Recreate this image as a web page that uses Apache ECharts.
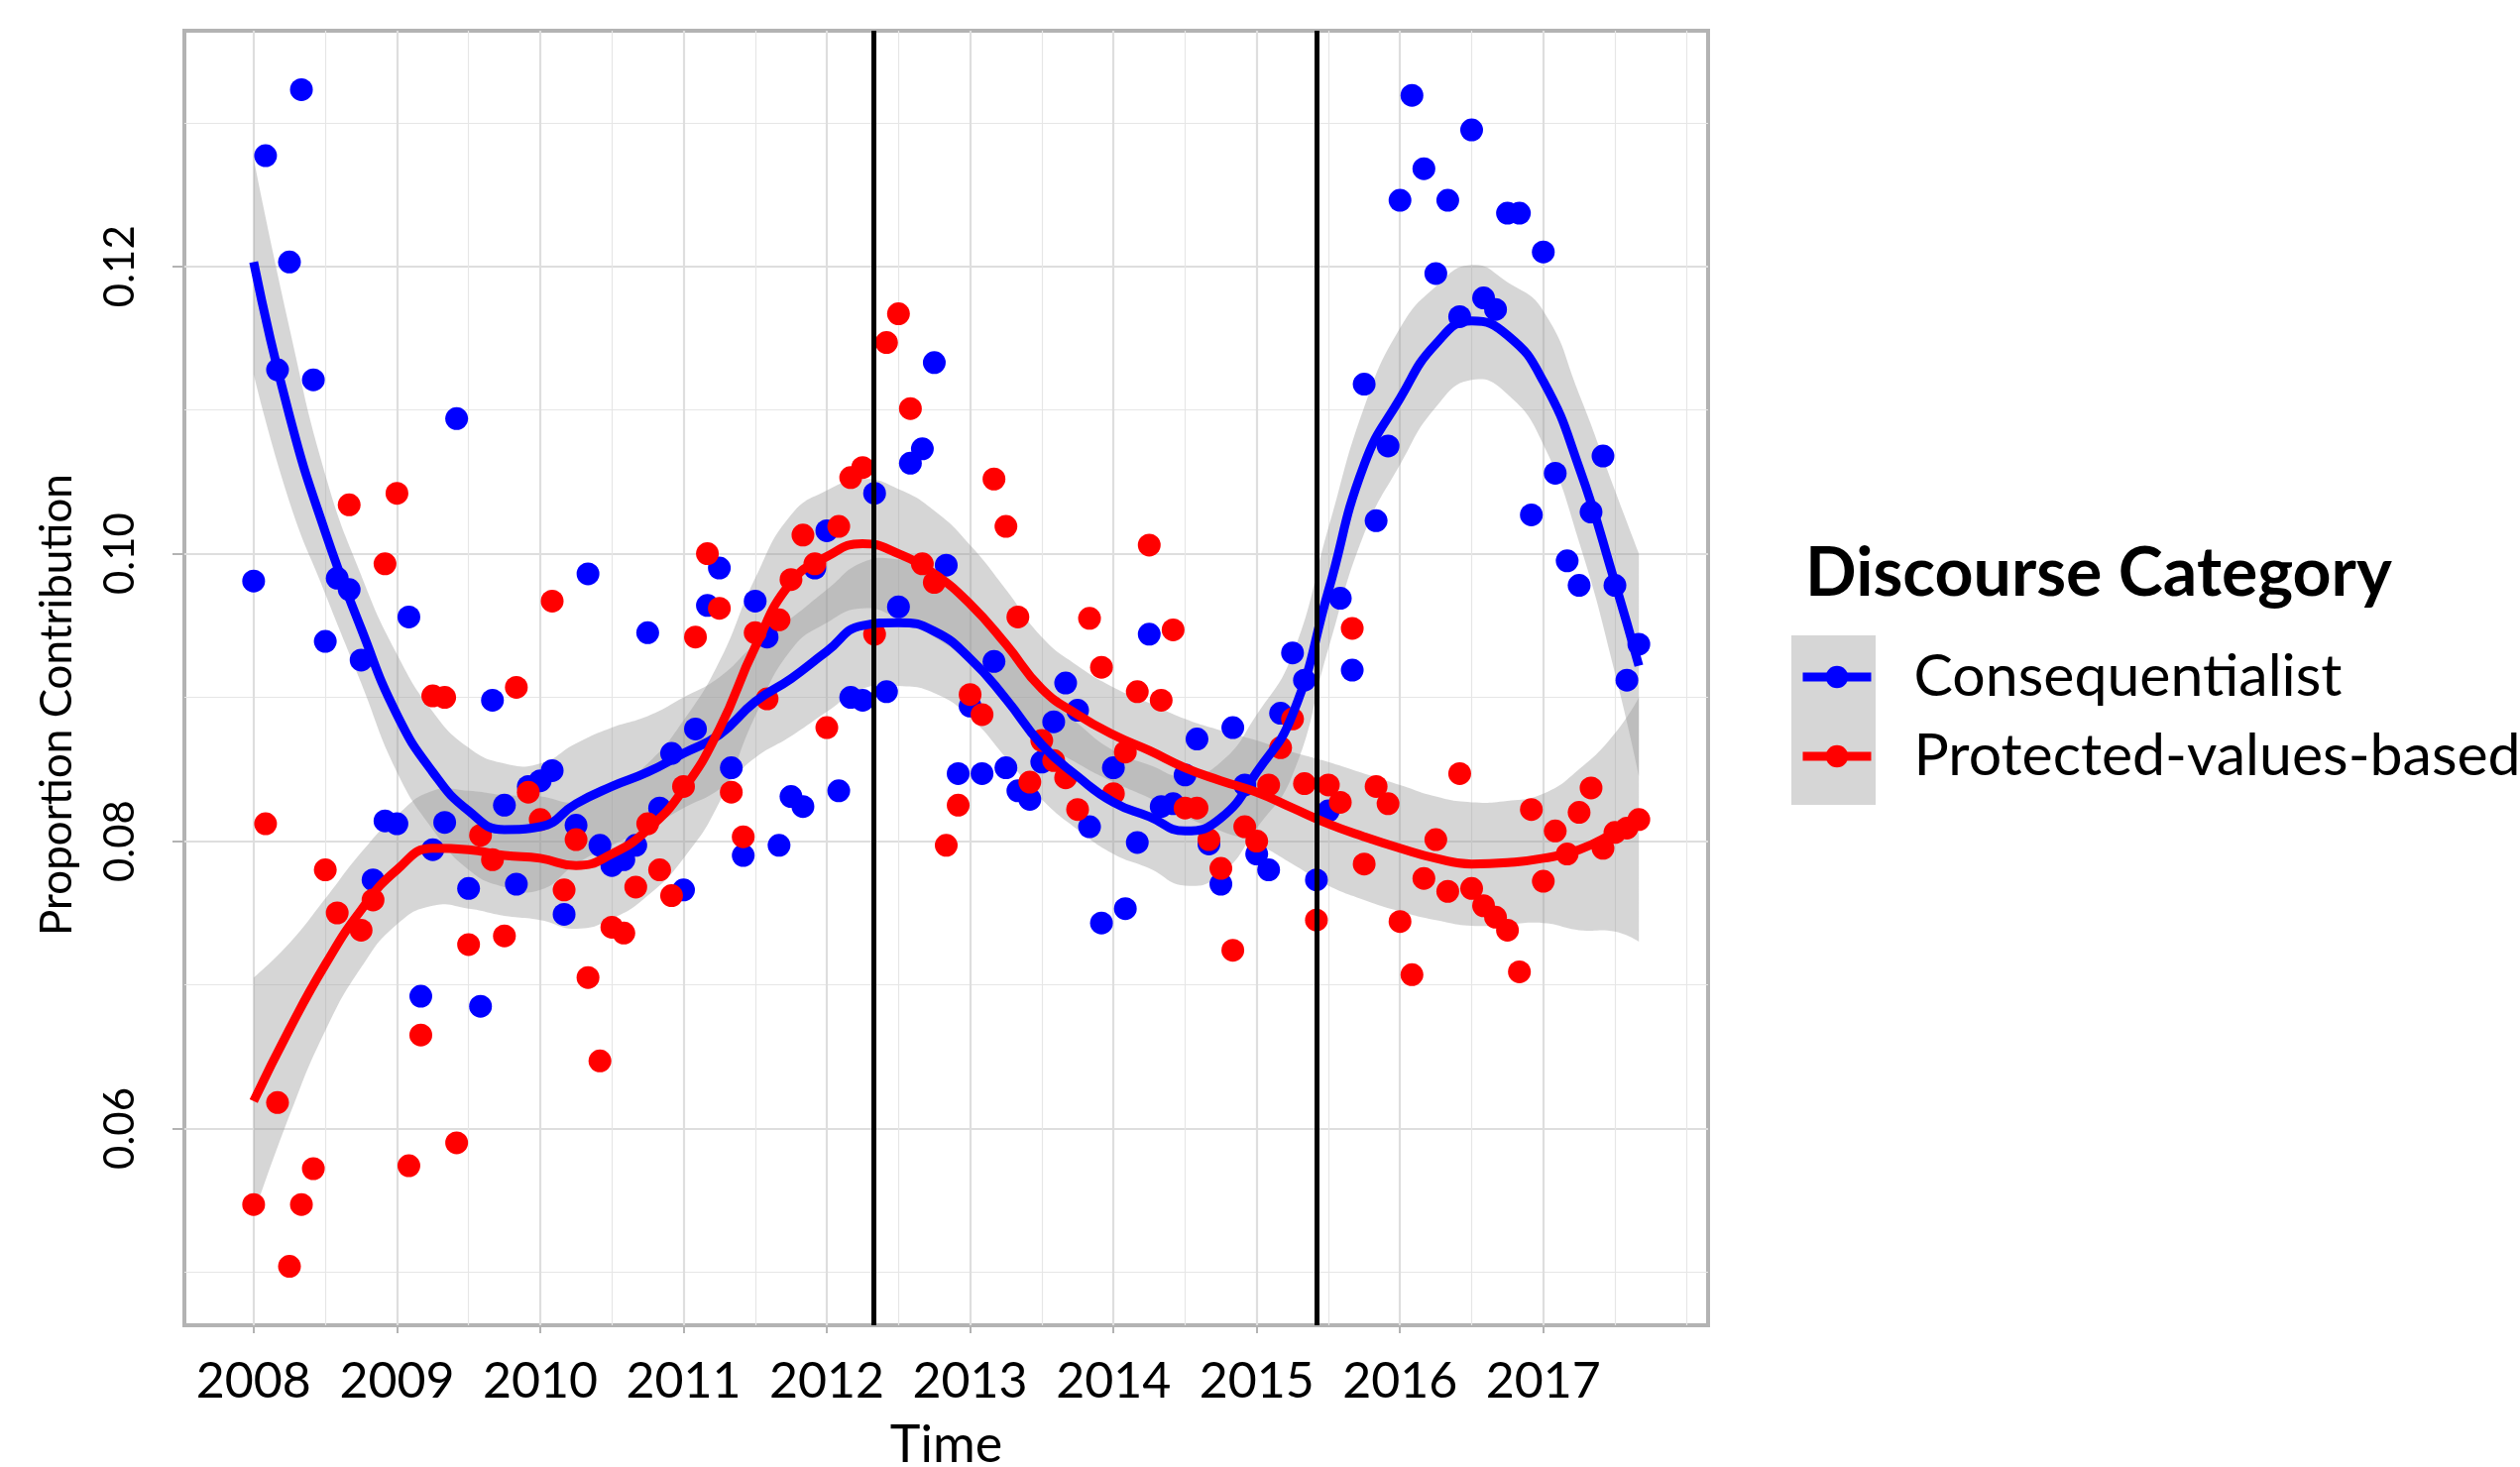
<!DOCTYPE html>
<html>
<head>
<meta charset="utf-8">
<script src="https://cdn.jsdelivr.net/npm/echarts@6/dist/echarts.min.js"></script>
<style>
html,body{margin:0;padding:0;background:#ffffff;overflow:hidden;}
#chart{width:2542px;height:1480px;}
</style>
</head>
<body>
<div id="chart"></div>
<script>
// ---- data ----
const firstYear = 2008;           // first month = Jan 2008, monthly observations
const monthsPerYear = 12;
const seriesNames = ['Consequentialist', 'Protected-values-based'];
const consequentialist = [
  0.0981,0.1277,0.1128,0.1203,0.1323,0.1121,0.0939,0.0983,0.0975,0.0926,0.0773,0.0814,
  0.0812,0.0956,0.0692,0.0794,0.0813,0.1094,0.0767,0.0685,0.0898,0.0825,0.0770,0.0838,
  0.0842,0.0849,0.0749,0.0811,0.0986,0.0797,0.0783,0.0787,0.0797,0.0945,0.0823,0.0861,
  0.0766,0.0878,0.0964,0.0990,0.0851,0.0790,0.0967,0.0942,0.0797,0.0831,0.0824,0.0990,
  0.1016,0.0835,0.0900,0.0898,0.1042,0.0904,0.0963,0.1063,0.1073,0.1133,0.0992,0.0847,
  0.0894,0.0847,0.0925,0.0851,0.0835,0.0829,0.0855,0.0883,0.0910,0.0891,0.0810,0.0743,
  0.0851,0.0753,0.0799,0.0944,0.0824,0.0826,0.0846,0.0871,0.0798,0.0770,0.0879,0.0839,
  0.0791,0.0780,0.0889,0.0931,0.0912,0.0773,0.0821,0.0969,0.0919,0.1118,0.1023,0.1075,
  0.1246,0.1319,0.1268,0.1195,0.1246,0.1165,0.1295,0.1178,0.1170,0.1237,0.1237,0.1027,
  0.1210,0.1056,0.0995,0.0978,0.1029,0.1068,0.0978,0.0912,0.0937
];
const protectedValues = [
  0.0547,0.0812,0.0618,0.0504,0.0547,0.0572,0.0780,0.0750,0.1034,0.0738,0.0759,0.0993,
  0.1042,0.0574,0.0665,0.0901,0.0900,0.0590,0.0728,0.0804,0.0787,0.0734,0.0907,0.0834,
  0.0815,0.0967,0.0766,0.0801,0.0705,0.0647,0.0740,0.0736,0.0768,0.0812,0.0780,0.0762,
  0.0838,0.0942,0.1000,0.0962,0.0834,0.0803,0.0945,0.0899,0.0954,0.0982,0.1013,0.0993,
  0.0879,0.1019,0.1053,0.1060,0.0944,0.1147,0.1167,0.1101,0.0993,0.0980,0.0797,0.0825,
  0.0902,0.0888,0.1052,0.1019,0.0956,0.0841,0.0870,0.0856,0.0844,0.0822,0.0955,0.0921,
  0.0833,0.0862,0.0904,0.1006,0.0898,0.0947,0.0823,0.0823,0.0801,0.0781,0.0724,0.0810,
  0.0800,0.0839,0.0865,0.0885,0.0840,0.0745,0.0839,0.0827,0.0948,0.0784,0.0838,0.0826,
  0.0744,0.0707,0.0774,0.0801,0.0765,0.0847,0.0767,0.0755,0.0747,0.0738,0.0709,0.0822,
  0.0772,0.0807,0.0791,0.0820,0.0837,0.0795,0.0806,0.0809,0.0815
];
// smoothed fits (loess) and confidence bands, read at these times
const smoothX = [2008.00,2008.25,2008.50,2008.75,2009.00,2009.25,2009.50,2009.75,2010.00,2010.25,
  2010.50,2010.75,2011.00,2011.25,2011.50,2011.75,2012.00,2012.25,2012.50,2012.75,
  2013.00,2013.25,2013.50,2013.75,2014.00,2014.25,2014.50,2014.75,2015.00,2015.25,
  2015.50,2015.75,2016.00,2016.25,2016.50,2016.75,2017.00,2017.25,2017.50,2017.667];
const consFit = [0.1203,0.1096,0.1015,0.0948,0.0888,0.0848,0.0821,0.0808,0.0810,0.0826,
  0.0838,0.0848,0.0861,0.0874,0.0897,0.0913,0.0932,0.0950,0.0952,0.0946,
  0.0927,0.0899,0.0867,0.0845,0.0827,0.0817,0.0807,0.0816,0.0848,0.0888,
  0.0974,0.1062,0.1108,0.1146,0.1162,0.1152,0.1120,0.1060,0.0980,0.0922];
const consUpper = [0.1275,0.1157,0.1055,0.0985,0.0930,0.0890,0.0865,0.0854,0.0854,0.0868,
  0.0879,0.0887,0.0900,0.0914,0.0937,0.0955,0.0975,0.0994,0.0996,0.0989,
  0.0968,0.0940,0.0905,0.0882,0.0863,0.0853,0.0845,0.0855,0.0888,0.0930,
  0.1018,0.1102,0.1157,0.1186,0.1201,0.1189,0.1169,0.1111,0.1044,0.1000];
const consLower = [0.1125,0.1036,0.0972,0.0910,0.0848,0.0808,0.0780,0.0768,0.0766,0.0784,
  0.0797,0.0809,0.0823,0.0836,0.0858,0.0873,0.0890,0.0906,0.0908,0.0903,
  0.0886,0.0858,0.0829,0.0808,0.0791,0.0781,0.0769,0.0777,0.0809,0.0846,
  0.0934,0.1014,0.1062,0.1102,0.1121,0.1111,0.1076,0.1008,0.0917,0.0845];
const protFit = [0.0619,0.0669,0.0714,0.0752,0.0780,0.0795,0.0794,0.0790,0.0788,0.0783,
  0.0791,0.0808,0.0836,0.0878,0.0935,0.0980,0.0998,0.1007,0.1000,0.0986,
  0.0965,0.0937,0.0906,0.0888,0.0874,0.0863,0.0851,0.0842,0.0834,0.0823,
  0.0812,0.0803,0.0795,0.0788,0.0784,0.0785,0.0788,0.0794,0.0806,0.0815];
const protUpper = [0.0705,0.0729,0.0760,0.0792,0.0818,0.0835,0.0835,0.0832,0.0831,0.0827,
  0.0836,0.0854,0.0884,0.0925,0.0983,0.1027,0.1044,0.1052,0.1045,0.1030,
  0.1006,0.0975,0.0942,0.0922,0.0907,0.0896,0.0885,0.0877,0.0870,0.0862,
  0.0855,0.0847,0.0839,0.0831,0.0827,0.0828,0.0833,0.0850,0.0875,0.0900];
const protLower = [0.0540,0.0609,0.0668,0.0712,0.0742,0.0755,0.0753,0.0748,0.0745,0.0739,
  0.0746,0.0762,0.0788,0.0827,0.0887,0.0933,0.0952,0.0962,0.0955,0.0942,
  0.0924,0.0899,0.0870,0.0854,0.0841,0.0830,0.0817,0.0807,0.0798,0.0784,
  0.0769,0.0759,0.0751,0.0745,0.0741,0.0742,0.0743,0.0738,0.0737,0.0730];
const eventLines = [2012.333, 2015.417];
const xMajor = [2008,2009,2010,2011,2012,2013,2014,2015,2016,2017];
const xMinor = [2008.5,2009.5,2010.5,2011.5,2012.5,2013.5,2014.5,2015.5,2016.5,2017.5,2018];
const yMajor = [0.06,0.08,0.10,0.12];
const yMinor = [0.05,0.07,0.09,0.11,0.13];

// ---- build ----
const FONT = 'Lato';
const monthX = i => firstYear + i / monthsPerYear;
const consPts = consequentialist.map((v, i) => [monthX(i), v]);
const protPts = protectedValues.map((v, i) => [monthX(i), v]);
const pairs = (xs, ys) => xs.map((x, i) => [x, ys[i]]);

// smooth a pixel polyline the way a smoothed line series does
function smoothPixels(pts, smooth, seg) {
  const n = pts.length, cpA = [], cpB = [];
  for (let i = 0; i < n; i++) {
    const p = pts[i];
    if (i === 0 || i === n - 1) { cpA[i] = p; cpB[i] = p; continue; }
    const pr = pts[i - 1], nx = pts[i + 1];
    const vx = nx[0] - pr[0], vy = nx[1] - pr[1];
    const d0 = Math.hypot(p[0] - pr[0], p[1] - pr[1]);
    const d1 = Math.hypot(nx[0] - p[0], nx[1] - p[1]);
    const r = d1 / (d0 + d1 || 1);
    cpB[i] = [p[0] + vx * smooth * r, p[1] + vy * smooth * r];
    cpA[i] = [p[0] - vx * smooth * (1 - r), p[1] - vy * smooth * (1 - r)];
  }
  const out = [pts[0]];
  for (let i = 0; i < n - 1; i++) {
    const p0 = pts[i], c1 = cpB[i], c2 = cpA[i + 1], p1 = pts[i + 1];
    for (let k = 1; k <= seg; k++) {
      const t = k / seg, u = 1 - t;
      out.push([
        u*u*u*p0[0] + 3*u*u*t*c1[0] + 3*u*t*t*c2[0] + t*t*t*p1[0],
        u*u*u*p0[1] + 3*u*u*t*c1[1] + 3*u*t*t*c2[1] + t*t*t*p1[1]
      ]);
    }
  }
  return out;
}
function bandSeries(name, upper, lower) {
  return {
    type: 'custom', name: name, silent: true,
    data: [[smoothX[0], upper[0]]],
    renderItem: function (params, api) {
      const up = smoothX.map((x, i) => api.coord([x, upper[i]]));
      const lo = smoothX.map((x, i) => api.coord([x, lower[i]]));
      const pts = smoothPixels(up, 0.5, 12).concat(smoothPixels(lo, 0.5, 12).reverse());
      return { type: 'polygon', shape: { points: pts }, style: { fill: 'rgba(153,153,153,0.4)' } };
    }
  };
}
function fitSeries(name, ys, color) {
  return {
    type: 'line', name: name, data: pairs(smoothX, ys), smooth: true,
    showSymbol: false, symbol: 'circle', symbolSize: 22, silent: true,
    color: color, itemStyle: { color: color },
    lineStyle: { color: color, width: 9 }
  };
}
function pointSeries(name, pts, color) {
  return {
    type: 'scatter', name: name, data: pts, symbol: 'circle', symbolSize: 23,
    itemStyle: { color: color, opacity: 1 }, silent: true
  };
}

const xMin = 2007.5167, xMax = 2018.15, yMin = 0.0463, yMax = 0.1364;
const gridCol = '#dedede', borderCol = '#b3b3b3';

const option = {
  animation: false,
  backgroundColor: '#ffffff',
  grid: { left: 186, right: 819, top: 31, bottom: 143, show: true, outerBoundsMode: 'none',
          containLabel: false,
          borderColor: borderCol, borderWidth: 4, backgroundColor: 'transparent' },
  title: {
    text: 'Discourse Category', left: 1821, top: 545, padding: 0,
    textStyle: { fontFamily: FONT, fontWeight: 'bold', fontSize: 68, color: '#000' }
  },
  legend: {
    data: seriesNames, orient: 'vertical', left: 1814, top: 653, padding: 0,
    itemGap: 20, itemWidth: 69, itemHeight: 28, selectedMode: false, z: 10,
    lineStyle: { width: 9 },
    textStyle: { fontFamily: FONT, fontSize: 59, color: '#000', lineHeight: 60, padding: [0, 0, 0, 38] }
  },
  graphic: [
    { type: 'rect', z: 0, left: 1807, top: 641, shape: { width: 85, height: 171 },
      style: { fill: '#d6d6d6' }, silent: true },
    { type: 'text', z: 0, x: 58, y: 711, rotation: Math.PI / 2, silent: true,
      style: { text: 'Proportion Contribution', fontFamily: FONT, fontSize: 44, fill: '#000',
               align: 'center', verticalAlign: 'middle' } }
  ],
  xAxis: [
    { type: 'value', min: xMin, max: xMax,
      axisLine: { show: false },
      axisTick: { show: true, length: 8, lineStyle: { color: borderCol, width: 2 }, customValues: xMajor },
      axisLabel: { customValues: xMajor, formatter: v => String(Math.round(v)),
                   fontFamily: FONT, fontSize: 50, color: '#000', margin: 32 },
      splitLine: { show: true, lineStyle: { color: gridCol, width: 2.2 } },
      name: 'Time', nameLocation: 'middle', nameGap: 95,
      nameTextStyle: { fontFamily: FONT, fontSize: 52, color: '#000' } },
    { type: 'value', min: xMin, max: xMax, position: 'bottom',
      axisLine: { show: false }, axisTick: { show: false, customValues: xMinor },
      axisLabel: { show: false, customValues: xMinor },
      splitLine: { show: true, lineStyle: { color: '#e6e6e6', width: 1.2 } } }
  ],
  yAxis: [
    { type: 'value', min: yMin, max: yMax,
      axisLine: { show: false },
      axisTick: { show: true, length: 12, lineStyle: { color: borderCol, width: 2 }, customValues: yMajor },
      axisLabel: { customValues: yMajor, formatter: v => v.toFixed(2), rotate: 90,
                   fontFamily: FONT, fontSize: 42, color: '#000', margin: 44 },
      splitLine: { show: true, lineStyle: { color: gridCol, width: 2.2 } } },
    { type: 'value', min: yMin, max: yMax, position: 'left',
      axisLine: { show: false }, axisTick: { show: false, customValues: yMinor },
      axisLabel: { show: false, customValues: yMinor },
      splitLine: { show: true, lineStyle: { color: '#e6e6e6', width: 1.2 } } }
  ],
  series: [
    bandSeries('band-c', consUpper, consLower),
    fitSeries(seriesNames[0], consFit, '#0000ff'),
    bandSeries('band-p', protUpper, protLower),
    fitSeries(seriesNames[1], protFit, '#ff0000'),
    pointSeries(seriesNames[0], consPts, '#0000ff'),
    pointSeries(seriesNames[1], protPts, '#ff0000'),
    { type: 'line', name: 'events', data: eventLines.map(x => [x, null]), z: 10, silent: true,
      showSymbol: false,
      markLine: { silent: true, symbol: ['none', 'none'], label: { show: false },
                  lineStyle: { color: '#000000', width: 5, type: 'solid' },
                  emphasis: { disabled: true },
                  data: eventLines.map(x => ({ xAxis: x })) } }
  ]
};
const chart = echarts.init(document.getElementById('chart'), null, { renderer: 'canvas' });
chart.setOption(option);
</script>
</body>
</html>
